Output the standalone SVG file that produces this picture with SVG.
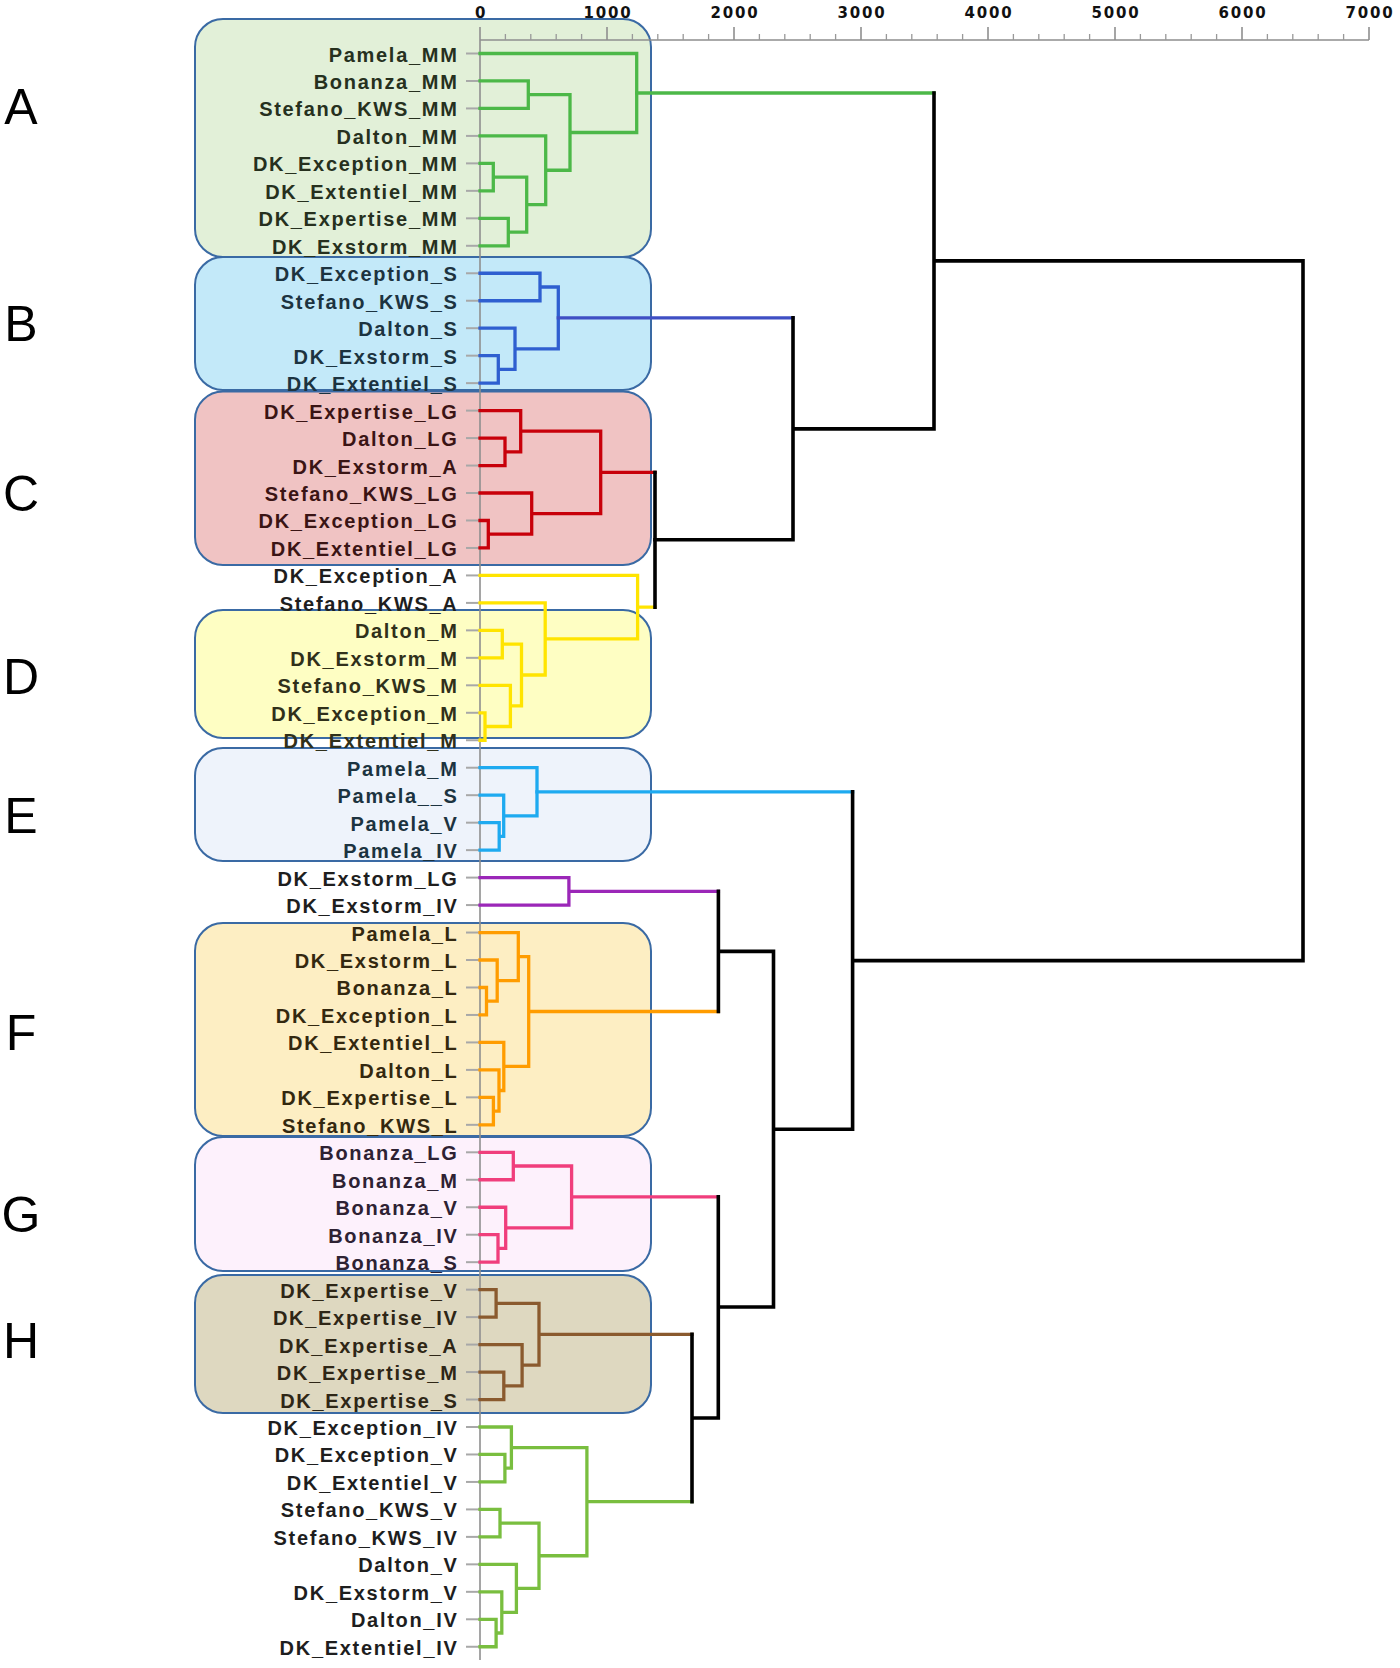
<svg xmlns="http://www.w3.org/2000/svg" width="1400" height="1668" viewBox="0 0 1400 1668">
<style>
.bx{stroke:#3a6aa4;stroke-width:2}
.lt{font-family:"Liberation Sans",Arial,sans-serif;font-size:50px;fill:#000;text-anchor:middle}
.lf text{font-family:"Liberation Sans",Arial,sans-serif;font-size:20px;font-weight:bold;letter-spacing:1.7px;text-anchor:end;fill:#1e1e1e}
.lf path{stroke:#a8a8a8;stroke-width:2;fill:none}
.ax{font-family:"DejaVu Sans",sans-serif;font-size:15px;font-weight:bold;letter-spacing:1.8px;text-anchor:middle;fill:#111}
.c{fill:none;stroke-width:3.3;stroke-linejoin:miter;stroke-linecap:square}
.cA{stroke:#4cb848}.cB{stroke:#2f5fd0}.cC{stroke:#c8000a}.cD{stroke:#ffe400}.cE{stroke:#1eaaf0}
.cP{stroke:#9b27b8}.cF{stroke:#ff9c00}.cG{stroke:#f03e7c}.cH{stroke:#8a5a2e}.cK{stroke:#79be3f}
.k{fill:none;stroke:#000;stroke-width:3.6;stroke-linecap:square}
.tA text{fill:#26301e}.tB text{fill:#1c3340}.tC text{fill:#3a1414}.tD text{fill:#30301a}.tF text{fill:#33280f}.tG text{fill:#2e2233}.tH text{fill:#2e2616}
</style>
<g id="boxes">
<g id="cluster-A"><rect class="bx" x="195" y="19" width="456" height="238" rx="28" fill="#e2f0d8"/><text class="lt" x="21" y="124">A</text></g>
<g id="cluster-B"><rect class="bx" x="195" y="257" width="456" height="133" rx="28" fill="#c3e9f9"/><text class="lt" x="21" y="341">B</text></g>
<g id="cluster-C"><rect class="bx" x="195" y="391.5" width="456" height="173.5" rx="28" fill="#f0c3c3"/><text class="lt" x="21" y="511">C</text></g>
<g id="cluster-D"><rect class="bx" x="195" y="610" width="456" height="128" rx="28" fill="#fefec3"/><text class="lt" x="21" y="694">D</text></g>
<g id="cluster-E"><rect class="bx" x="195" y="748" width="456" height="113" rx="28" fill="#eef3fb"/><text class="lt" x="21" y="833">E</text></g>
<g id="cluster-F"><rect class="bx" x="195" y="923" width="456" height="213" rx="28" fill="#fdeec3"/><text class="lt" x="21" y="1050">F</text></g>
<g id="cluster-G"><rect class="bx" x="195" y="1137" width="456" height="134" rx="28" fill="#fdf1fc"/><text class="lt" x="21" y="1232">G</text></g>
<g id="cluster-H"><rect class="bx" x="195" y="1275" width="456" height="138" rx="28" fill="#ded8c0"/><text class="lt" x="21" y="1358">H</text></g>
</g>
<g id="axis">
<path d="M480 40H1369M480 40V1660" stroke="#8f8f8f" stroke-width="1.6" fill="none"/>
<path d="M480 27V40M607 27V40M734 27V40M861 27V40M988 27V40M1115 27V40M1242 27V40M1369 27V40" stroke="#8f8f8f" stroke-width="1.6"/>
<path d="M505.4 34V40M530.8 34V40M556.2 34V40M581.6 34V40M632.4 34V40M657.8 34V40M683.2 34V40M708.6 34V40M759.4 34V40M784.8 34V40M810.2 34V40M835.6 34V40M886.4 34V40M911.8 34V40M937.2 34V40M962.6 34V40M1013.4 34V40M1038.8 34V40M1064.2 34V40M1089.6 34V40M1140.4 34V40M1165.8 34V40M1191.2 34V40M1216.6 34V40M1267.4 34V40M1292.8 34V40M1318.2 34V40M1343.6 34V40" stroke="#999" stroke-width="1.3"/>
<text class="ax" x="481" y="18">0</text>
<text class="ax" x="608" y="18">1000</text>
<text class="ax" x="735" y="18">2000</text>
<text class="ax" x="862" y="18">3000</text>
<text class="ax" x="989" y="18">4000</text>
<text class="ax" x="1116" y="18">5000</text>
<text class="ax" x="1243" y="18">6000</text>
<text class="ax" x="1370" y="18">7000</text>
</g>
<g id="leaves">
<g class="lf tA" id="leaf-Pamela_MM"><path d="M466 53.5h14"/><text x="458.5" y="61.5">Pamela_MM</text></g>
<g class="lf tA" id="leaf-Bonanza_MM"><path d="M466 80.97h14"/><text x="458.5" y="88.97">Bonanza_MM</text></g>
<g class="lf tA" id="leaf-Stefano_KWS_MM"><path d="M466 108.44h14"/><text x="458.5" y="116.44">Stefano_KWS_MM</text></g>
<g class="lf tA" id="leaf-Dalton_MM"><path d="M466 135.91h14"/><text x="458.5" y="143.91">Dalton_MM</text></g>
<g class="lf tA" id="leaf-DK_Exception_MM"><path d="M466 163.38h14"/><text x="458.5" y="171.38">DK_Exception_MM</text></g>
<g class="lf tA" id="leaf-DK_Extentiel_MM"><path d="M466 190.85h14"/><text x="458.5" y="198.85">DK_Extentiel_MM</text></g>
<g class="lf tA" id="leaf-DK_Expertise_MM"><path d="M466 218.32h14"/><text x="458.5" y="226.32">DK_Expertise_MM</text></g>
<g class="lf tA" id="leaf-DK_Exstorm_MM"><path d="M466 245.79h14"/><text x="458.5" y="253.79">DK_Exstorm_MM</text></g>
<g class="lf tB" id="leaf-DK_Exception_S"><path d="M466 273.26h14"/><text x="458.5" y="281.26">DK_Exception_S</text></g>
<g class="lf tB" id="leaf-Stefano_KWS_S"><path d="M466 300.73h14"/><text x="458.5" y="308.73">Stefano_KWS_S</text></g>
<g class="lf tB" id="leaf-Dalton_S"><path d="M466 328.2h14"/><text x="458.5" y="336.2">Dalton_S</text></g>
<g class="lf tB" id="leaf-DK_Exstorm_S"><path d="M466 355.67h14"/><text x="458.5" y="363.67">DK_Exstorm_S</text></g>
<g class="lf tB" id="leaf-DK_Extentiel_S"><path d="M466 383.14h14"/><text x="458.5" y="391.14">DK_Extentiel_S</text></g>
<g class="lf tC" id="leaf-DK_Expertise_LG"><path d="M466 410.61h14"/><text x="458.5" y="418.61">DK_Expertise_LG</text></g>
<g class="lf tC" id="leaf-Dalton_LG"><path d="M466 438.08h14"/><text x="458.5" y="446.08">Dalton_LG</text></g>
<g class="lf tC" id="leaf-DK_Exstorm_A"><path d="M466 465.55h14"/><text x="458.5" y="473.55">DK_Exstorm_A</text></g>
<g class="lf tC" id="leaf-Stefano_KWS_LG"><path d="M466 493.02h14"/><text x="458.5" y="501.02">Stefano_KWS_LG</text></g>
<g class="lf tC" id="leaf-DK_Exception_LG"><path d="M466 520.49h14"/><text x="458.5" y="528.49">DK_Exception_LG</text></g>
<g class="lf tC" id="leaf-DK_Extentiel_LG"><path d="M466 547.96h14"/><text x="458.5" y="555.96">DK_Extentiel_LG</text></g>
<g class="lf" id="leaf-DK_Exception_A"><path d="M466 575.43h14"/><text x="458.5" y="583.43">DK_Exception_A</text></g>
<g class="lf" id="leaf-Stefano_KWS_A"><path d="M466 602.9h14"/><text x="458.5" y="610.9">Stefano_KWS_A</text></g>
<g class="lf tD" id="leaf-Dalton_M"><path d="M466 630.37h14"/><text x="458.5" y="638.37">Dalton_M</text></g>
<g class="lf tD" id="leaf-DK_Exstorm_M"><path d="M466 657.84h14"/><text x="458.5" y="665.84">DK_Exstorm_M</text></g>
<g class="lf tD" id="leaf-Stefano_KWS_M"><path d="M466 685.31h14"/><text x="458.5" y="693.31">Stefano_KWS_M</text></g>
<g class="lf tD" id="leaf-DK_Exception_M"><path d="M466 712.78h14"/><text x="458.5" y="720.78">DK_Exception_M</text></g>
<g class="lf tD" id="leaf-DK_Extentiel_M"><path d="M466 740.25h14"/><text x="458.5" y="748.25">DK_Extentiel_M</text></g>
<g class="lf tB" id="leaf-Pamela_M"><path d="M466 767.72h14"/><text x="458.5" y="775.72">Pamela_M</text></g>
<g class="lf tB" id="leaf-Pamela__S"><path d="M466 795.19h14"/><text x="458.5" y="803.19">Pamela__S</text></g>
<g class="lf tB" id="leaf-Pamela_V"><path d="M466 822.66h14"/><text x="458.5" y="830.66">Pamela_V</text></g>
<g class="lf tB" id="leaf-Pamela_IV"><path d="M466 850.13h14"/><text x="458.5" y="858.13">Pamela_IV</text></g>
<g class="lf" id="leaf-DK_Exstorm_LG"><path d="M466 877.6h14"/><text x="458.5" y="885.6">DK_Exstorm_LG</text></g>
<g class="lf" id="leaf-DK_Exstorm_IV"><path d="M466 905.07h14"/><text x="458.5" y="913.07">DK_Exstorm_IV</text></g>
<g class="lf tF" id="leaf-Pamela_L"><path d="M466 932.54h14"/><text x="458.5" y="940.54">Pamela_L</text></g>
<g class="lf tF" id="leaf-DK_Exstorm_L"><path d="M466 960.01h14"/><text x="458.5" y="968.01">DK_Exstorm_L</text></g>
<g class="lf tF" id="leaf-Bonanza_L"><path d="M466 987.48h14"/><text x="458.5" y="995.48">Bonanza_L</text></g>
<g class="lf tF" id="leaf-DK_Exception_L"><path d="M466 1014.95h14"/><text x="458.5" y="1022.95">DK_Exception_L</text></g>
<g class="lf tF" id="leaf-DK_Extentiel_L"><path d="M466 1042.42h14"/><text x="458.5" y="1050.42">DK_Extentiel_L</text></g>
<g class="lf tF" id="leaf-Dalton_L"><path d="M466 1069.89h14"/><text x="458.5" y="1077.89">Dalton_L</text></g>
<g class="lf tF" id="leaf-DK_Expertise_L"><path d="M466 1097.36h14"/><text x="458.5" y="1105.36">DK_Expertise_L</text></g>
<g class="lf tF" id="leaf-Stefano_KWS_L"><path d="M466 1124.83h14"/><text x="458.5" y="1132.83">Stefano_KWS_L</text></g>
<g class="lf tG" id="leaf-Bonanza_LG"><path d="M466 1152.3h14"/><text x="458.5" y="1160.3">Bonanza_LG</text></g>
<g class="lf tG" id="leaf-Bonanza_M"><path d="M466 1179.77h14"/><text x="458.5" y="1187.77">Bonanza_M</text></g>
<g class="lf tG" id="leaf-Bonanza_V"><path d="M466 1207.24h14"/><text x="458.5" y="1215.24">Bonanza_V</text></g>
<g class="lf tG" id="leaf-Bonanza_IV"><path d="M466 1234.71h14"/><text x="458.5" y="1242.71">Bonanza_IV</text></g>
<g class="lf tG" id="leaf-Bonanza_S"><path d="M466 1262.18h14"/><text x="458.5" y="1270.18">Bonanza_S</text></g>
<g class="lf tH" id="leaf-DK_Expertise_V"><path d="M466 1289.65h14"/><text x="458.5" y="1297.65">DK_Expertise_V</text></g>
<g class="lf tH" id="leaf-DK_Expertise_IV"><path d="M466 1317.12h14"/><text x="458.5" y="1325.12">DK_Expertise_IV</text></g>
<g class="lf tH" id="leaf-DK_Expertise_A"><path d="M466 1344.59h14"/><text x="458.5" y="1352.59">DK_Expertise_A</text></g>
<g class="lf tH" id="leaf-DK_Expertise_M"><path d="M466 1372.06h14"/><text x="458.5" y="1380.06">DK_Expertise_M</text></g>
<g class="lf tH" id="leaf-DK_Expertise_S"><path d="M466 1399.53h14"/><text x="458.5" y="1407.53">DK_Expertise_S</text></g>
<g class="lf" id="leaf-DK_Exception_IV"><path d="M466 1427h14"/><text x="458.5" y="1435">DK_Exception_IV</text></g>
<g class="lf" id="leaf-DK_Exception_V"><path d="M466 1454.47h14"/><text x="458.5" y="1462.47">DK_Exception_V</text></g>
<g class="lf" id="leaf-DK_Extentiel_V"><path d="M466 1481.94h14"/><text x="458.5" y="1489.94">DK_Extentiel_V</text></g>
<g class="lf" id="leaf-Stefano_KWS_V"><path d="M466 1509.41h14"/><text x="458.5" y="1517.41">Stefano_KWS_V</text></g>
<g class="lf" id="leaf-Stefano_KWS_IV"><path d="M466 1536.88h14"/><text x="458.5" y="1544.88">Stefano_KWS_IV</text></g>
<g class="lf" id="leaf-Dalton_V"><path d="M466 1564.35h14"/><text x="458.5" y="1572.35">Dalton_V</text></g>
<g class="lf" id="leaf-DK_Exstorm_V"><path d="M466 1591.82h14"/><text x="458.5" y="1599.82">DK_Exstorm_V</text></g>
<g class="lf" id="leaf-Dalton_IV"><path d="M466 1619.29h14"/><text x="458.5" y="1627.29">Dalton_IV</text></g>
<g class="lf" id="leaf-DK_Extentiel_IV"><path d="M466 1646.76h14"/><text x="458.5" y="1654.76">DK_Extentiel_IV</text></g>
</g>
<g id="connectors">
<path class="c cA" d="M480 80.97H528.3V108.44H480M480 163.38H493.3V190.85H480M480 218.32H508.3V245.79H480M493.3 177.1H526.7V232.1H508.3M480 135.91H545.7V204.6H526.7M528.3 94.7H570V170.26H545.7M480 53.5H636.7V132.48H570"/>
<path class="c cA" stroke-width="2.8" d="M636.7 93H934"/>
<path class="c cB" d="M480 273.26H540V300.73H480M480 355.67H498.3V383.14H480M480 328.2H515V369.4H498.3M540 287H558.3V348.8H515"/>
<path class="c" stroke="#3f4fc4" stroke-width="2.8" d="M558.3 317.9H793"/>
<path class="c cC" d="M480 438.08H505V465.55H480M480 410.61H520.7V451.8H505M480 520.49H488.3V547.96H480M480 493.02H531.7V534.2H488.3M520.7 431.2H600.7V513.6H531.7M600.7 472.4H655"/>
<path class="c cD" d="M480 630.37H502.3V657.84H480M480 712.78H485V740.25H480M480 685.31H510.4V726.5H485M502.3 644.1H521.5V705.9H510.4M480 602.9H545.2V675H521.5M480 575.43H637.6V638.95H545.2M637.6 607.2H655"/>
<path class="c cE" d="M480 822.66H499.2V850.13H480M480 795.19H503.7V836.4H499.2M480 767.72H537V815.8H503.7"/>
<path class="c cE" stroke-width="2.8" d="M537 791.8H852.6"/>
<path class="c cP" d="M480 877.6H568.9V905.07H480M568.9 891.3H718.4"/>
<path class="c cF" d="M480 987.48H486.5V1014.95H480M480 960.01H497.2V1001.2H486.5M480 932.54H518.3V980.6H497.2M480 1097.36H493.4V1124.83H480M480 1069.89H499V1111.1H493.4M480 1042.42H503.8V1090.5H499M518.3 956.6H528.7V1066.46H503.8M528.7 1011.5H718.4"/>
<path class="c cG" d="M480 1152.3H513.3V1179.77H480M480 1234.71H498V1262.18H480M480 1207.24H505.7V1248.4H498M513.3 1166H571.6V1227.8H505.7M571.6 1196.9H718.3"/>
<path class="c cH" d="M480 1289.65H496.1V1317.12H480M480 1372.06H503.8V1399.53H480M480 1344.59H522.1V1385.8H503.8M496.1 1303.4H539V1365.2H522.1M539 1334.3H692"/>
<path class="c cK" d="M480 1454.47H504.9V1481.94H480M480 1427H511.4V1468.2H504.9M480 1509.41H500V1536.88H480M480 1619.29H496.1V1646.76H480M480 1591.82H501.8V1633H496.1M480 1564.35H516.4V1612.4H501.8M500 1523.1H539V1588.4H516.4M511.4 1447.6H586.9V1555.75H539M586.9 1501.7H692"/>
<path class="k" stroke-width="5" d="M655 472.4V607.2"/>
<path class="k" d="M655 539.8H793M793 317.9V539.8M793 428.85H934M934 93V428.85M934 260.9H1303V960.6H852.6M852.6 791.8V1129.2H773.5M718.4 891.3V1011.5M718.4 951.4H773.5V1307H718.3M718.3 1196.9V1418H692M692 1334.3V1501.7"/>
</g>
</svg>
